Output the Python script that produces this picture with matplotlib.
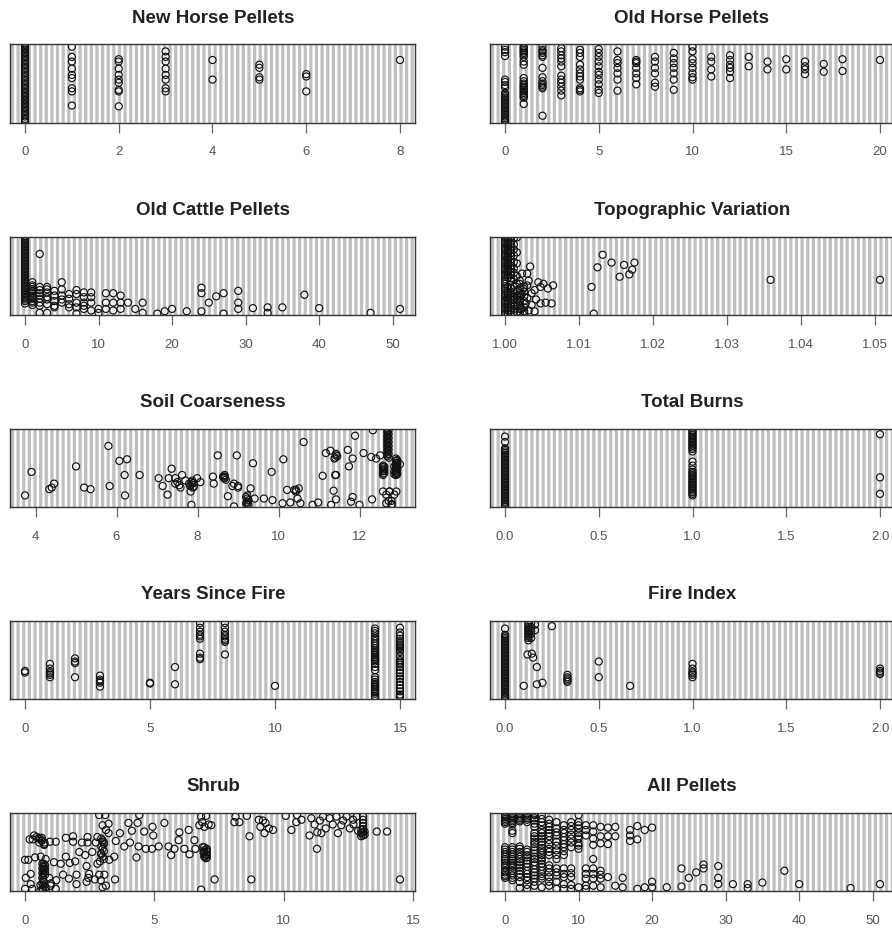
import numpy as np
import matplotlib
matplotlib.use("Agg")
import matplotlib.pyplot as plt
from matplotlib.patches import Rectangle

plt.rcParams['font.family'] = ['Liberation Sans', 'DejaVu Sans']

# ---------- DATA (y = % of panel height) ----------
NEW_HORSE_VALUES = [0, 1, 2, 3, 4, 5, 6, 8]
NEW_HORSE_ROWS = [
    [100, 98, 95, 93, 90, 88, 85, 83, 80, 78, 75, 73, 70, 68, 65, 63, 60, 58, 55, 53, 50, 48, 45, 43, 40, 38, 35, 33, 30, 28, 25, 23, 20, 18, 15, 13, 10, 8, 5, 3, 1],
    [97, 84, 78, 69, 61, 57, 44, 40, 22],
    [81, 78, 69, 61, 55, 51, 42, 40, 21],
    [91, 84, 78, 69, 61, 55, 44, 40],
    [80, 55],
    [74, 70, 58, 55],
    [62, 59, 40],
    [80],
]

OLD_HORSE_VALUES = [0, 1, 2, 3, 4, 5, 6, 7, 8, 9, 10, 11, 12, 13, 14, 15, 16, 17, 18, 20]
OLD_HORSE_ROWS = [
    [97, 93, 90, 85, 55, 52, 48, 45, 38, 36, 34, 32, 30, 28, 26, 24, 22, 20, 18, 16, 14, 12, 10, 8, 6, 4, 2, 1],
    [97, 95, 93, 91, 89, 87, 84, 78, 74, 57, 53, 50, 48, 46, 44, 42, 40, 38, 36, 34, 32, 24],
    [97, 93, 91, 89, 86, 84, 70, 58, 53, 50, 48, 46, 44, 9],
    [95, 91, 86, 82, 78, 72, 60, 55, 51, 46, 41, 35],
    [93, 89, 84, 74, 68, 63, 59, 55, 44, 42, 40],
    [94, 89, 84, 78, 72, 65, 61, 55, 49, 42, 38],
    [91, 80, 76, 70, 63, 55, 41],
    [80, 78, 76, 70, 63, 57, 49],
    [84, 78, 70, 63, 51, 46],
    [89, 82, 76, 70, 63, 55, 42],
    [97, 91, 81, 76, 70, 63, 58, 55],
    [84, 78, 68, 59],
    [86, 80, 74, 70, 65, 57],
    [84, 72],
    [78, 68],
    [81, 68],
    [78, 72, 68, 62],
    [75, 65],
    [81, 66],
    [80],
]

OLD_CATTLE_VALUES = [0, 1, 2, 3, 4, 5, 6, 7, 8, 9, 10, 11, 12, 13, 14, 15, 16, 18, 19, 20, 22, 24, 25, 26, 27, 29, 31, 33, 35, 38, 40, 47, 51]
OLD_CATTLE_ROWS = [
    [100, 98, 96, 94, 92, 90, 88, 86, 84, 82, 80, 78, 76, 74, 72, 70, 68, 66, 64, 62, 60, 58, 56, 54, 52, 50, 48, 46, 44, 42, 40, 38, 36, 34, 32, 30, 28, 26, 24, 22, 20, 18, 15],
    [42, 38, 36, 33, 31, 28, 25, 23, 21, 18, 16, 13],
    [78, 36, 32, 28, 25, 21, 16, 12, 3],
    [36, 33, 29, 23, 20, 14, 3],
    [31, 25, 18, 12, 10],
    [42, 33, 25, 20, 16],
    [27, 21, 14, 10],
    [32, 27, 16, 10, 2],
    [29, 23, 16, 12, 8],
    [29, 23, 16, 6],
    [8, 3],
    [28, 16, 8],
    [28, 16, 6],
    [25, 16, 8],
    [16],
    [8],
    [16, 3],
    [2],
    [5],
    [8],
    [5],
    [35, 28, 5],
    [16],
    [24],
    [28, 2],
    [31, 16, 8],
    [9],
    [10, 3],
    [10],
    [26],
    [9],
    [3],
    [8],
]

TOPO_VALUES = [1.0, 1.0004, 1.0008, 1.0012, 1.0016, 1.002, 1.0026]
TOPO_ROWS = [
    [100, 97, 94, 91, 88, 85, 82, 79, 76, 73, 70, 67, 64, 61, 58, 55, 52, 49, 46, 43, 40, 37, 34, 31, 28, 25, 22, 19, 16, 13, 10, 7, 4, 1],
    [99, 96, 93, 90, 87, 84, 81, 78, 75, 72, 69, 66, 63, 60, 57, 54, 51, 48, 36, 30, 26, 22, 18, 14, 10, 6, 2],
    [100, 95, 91, 87, 83, 79, 75, 71, 67, 63, 59, 55, 51, 47, 44, 34, 28, 24, 20, 16, 12, 6, 1],
    [98, 90, 84, 76, 68, 60, 54, 46, 36, 30, 24, 19, 14, 8, 3],
    [99, 80, 66, 50, 40, 30, 25, 20, 12, 4],
    [44, 34, 28, 24, 18, 12, 8, 3],
    [36, 30, 24, 18, 10, 5, 2],
]
TOPO_X = [1.0132, 1.0125, 1.0144, 1.0161, 1.0175, 1.0172, 1.0168, 1.0155, 1.0117, 1.012, 1.0359, 1.0507,
          1.0034, 1.003, 1.0023, 1.002, 1.003, 1.0032, 1.0045, 1.0048, 1.0052, 1.0058, 1.0065, 1.004, 1.0036,
          1.0025, 1.0022, 1.003, 1.0042, 1.0048, 1.0055, 1.0063, 1.0036, 1.0028, 1.002, 1.0022, 1.0032, 1.004, 1.002]
TOPO_Y = [77, 61, 67, 64, 67, 58, 52, 49, 36, 2, 45, 45,
          62, 53, 53, 40, 38, 44, 42, 36, 40, 34, 38, 32, 28,
          34, 26, 22, 20, 15, 16, 15, 13, 15, 14, 8, 6, 5, 20]

SOIL_X = [3.74, 3.9, 4.34, 4.4, 4.46, 5.0, 5.2, 5.36, 5.8, 5.83, 6.07, 6.26, 6.2, 6.21, 6.57, 7.04, 7.14, 7.26, 7.36, 7.29,
          7.45, 7.45, 7.58, 7.62, 7.7, 7.79, 7.87, 7.91, 7.99, 8.07, 7.83, 7.85, 8.38, 8.4, 8.5, 8.65, 8.67, 8.75, 8.86, 8.9,
          8.97, 9.0, 9.23, 9.23, 9.23, 9.23, 9.31, 9.37, 9.41, 9.64, 9.83, 9.85, 10.12, 10.21, 10.1, 10.29, 10.43, 10.39, 10.47, 10.54,
          10.62, 10.84, 10.98, 11.09, 11.17, 11.28, 11.42, 11.38, 11.4, 11.36, 11.42, 11.3, 11.71, 11.74, 11.83, 11.89, 11.83, 11.79, 12.0, 12.1,
          12.29, 12.31, 12.41, 12.33, 12.51,
          12.69, 12.69, 12.69, 12.69, 12.69, 12.69, 12.69, 12.69, 12.69, 12.69, 12.69, 12.69, 12.69, 12.69, 12.69,
          12.72, 12.72, 12.72, 12.72, 12.72, 12.72, 12.72, 12.72,
          12.58, 12.58, 12.58, 12.58, 12.58, 12.58, 12.9, 12.9, 12.9, 12.9, 12.9, 12.9, 12.9, 12.9, 12.93, 12.93, 12.93, 13.0,
          12.58, 12.74, 12.91, 12.66, 12.79, 12.72, 12.8,
          12.61, 12.61, 12.61, 12.61, 12.93, 12.93, 12.93, 12.93, 12.93, 12.86, 12.86, 12.86,
          7.85, 7.85, 7.9, 7.82, 7.88, 8.67, 8.67, 8.7, 8.63, 9.2, 9.26, 9.2, 9.26,
          7.5, 7.55, 8.9, 9.0, 11.42, 11.45, 11.4, 11.42, 10.43, 10.5, 12.66, 12.74, 12.79, 12.86]
SOIL_Y = [15, 45, 23, 25, 30, 52, 25, 23, 78, 27, 59, 61, 41, 15, 41, 37, 27, 16, 49, 37,
          37, 30, 25, 41, 34, 30, 34, 26, 37, 32, 20, 3, 39, 30, 66, 37, 39, 14, 27, 1,
          66, 27, 15, 11, 7, 4, 24, 56, 11, 11, 45, 9, 61, 22, 5, 6, 22, 22, 11, 5,
          83, 3, 6, 40, 69, 72, 66, 62, 41, 21, 10, 3, 73, 52, 62, 91, 13, 7, 3, 69,
          64, 10, 62, 98, 66,
          100, 97, 95, 92, 90, 87, 85, 82, 80, 77, 75, 72, 70, 67, 65,
          98, 93, 88, 83, 78, 73, 68, 63,
          53, 51, 48, 46, 43, 41, 62, 59, 56, 53, 50, 47, 44, 41, 56, 50, 44, 55,
          20, 20, 20, 5, 3, 8, 4,
          52, 49, 46, 43, 60, 57, 54, 48, 42, 52, 46, 42,
          32, 29, 31, 27, 25, 41, 37, 35, 39, 13, 9, 5, 3,
          32, 28, 30, 25, 68, 65, 63, 41, 20, 24, 16, 20, 8, 16]

BURN_VALUES = [0, 1, 2]
BURN_ROWS = [
    [90, 83, 75, 73, 71, 69, 67, 65, 63, 61, 59, 57, 55, 53, 51, 49, 47, 45, 43, 41, 39, 37, 35, 33, 31, 29, 27, 25, 23, 21, 19, 17, 15, 13, 11, 9, 7, 5, 3, 1],
    [98, 96, 94, 92, 90, 88, 86, 84, 82, 80, 78, 76, 74, 71, 58, 53, 48, 45, 43, 41, 39, 37, 35, 33, 31, 29, 27, 25, 23, 21, 19, 17, 15],
    [93, 38, 17],
]

YEARS_VALUES = [0, 1, 2, 3, 5, 6, 7, 8, 10, 14, 15]
YEARS_ROWS = [
    [36, 34],
    [45, 39, 35, 33, 31, 28],
    [52, 48, 46, 28],
    [30, 25, 23, 21, 16],
    [21, 20],
    [41, 19],
    [97, 91, 86, 82, 80, 77, 58, 53, 51],
    [97, 91, 86, 82, 80, 77, 75, 73, 57],
    [17],
    [90, 87, 84, 80, 77, 74, 71, 68, 65, 62, 60, 58, 56, 54, 53, 51, 50, 48, 45, 41, 37, 28, 25, 22, 20, 18, 16, 15, 13, 11, 9, 7, 4, 2],
    [91, 85, 81, 77, 74, 72, 70, 68, 66, 65, 62, 60, 55, 50, 48, 46, 44, 41, 37, 33, 29, 26, 22, 18, 14, 10, 6, 4, 3],
]

FIRE_VALUES = [0, 0.1, 0.12, 0.125, 0.14, 0.143, 0.15, 0.16, 0.17, 0.2, 0.25, 0.333, 0.5, 0.667, 1, 2]
FIRE_ROWS = [
    [90, 82, 80, 78, 76, 74, 72, 70, 68, 66, 64, 62, 60, 58, 56, 54, 52, 50, 48, 46, 44, 42, 40, 38, 36, 34, 32, 30, 28, 26, 24, 22, 20, 18, 16, 14, 12, 10, 8, 6, 4, 2, 1],
    [17],
    [57],
    [97, 95, 92, 90, 88, 86, 84, 82, 80, 78, 75],
    [97, 92, 87, 83, 78],
    [58],
    [53],
    [95, 88],
    [41, 19],
    [21],
    [93],
    [31, 28, 26, 24, 22],
    [48, 28],
    [17],
    [45, 39, 35, 33, 31, 28],
    [39, 36, 34, 32],
]

SHRUB_X = [0.18, 0.35, 0.52, 0.65, 0.74, 0.96, 1.19, 1.58, 1.86, 1.86, 2.2, 2.42, 2.42, 2.8, 2.74,
           2.87, 3.1, 3.0, 3.23, 3.13, 3.23, 2.95, 3.0, 3.05, 2.95, 3.0, 3.05, 2.95, 3.0, 3.05,
           3.45, 3.26, 3.51, 3.67, 3.84, 4.06, 4.0, 4.35, 4.13, 4.42, 4.31, 4.39, 4.67, 4.61, 4.93, 4.96, 4.91, 5.17, 5.39, 5.55,
           5.65, 5.78, 5.94, 5.97, 6.33, 6.16, 6.36, 6.55, 6.59, 6.81, 7.0, 6.74, 6.94, 7.2,
           6.87, 7.0, 6.9, 7.0, 6.95, 7.0, 6.81, 7.33, 8.75, 14.5,
           0.67, 0.7, 0.67, 0.7, 0.67, 0.7, 0.67, 0.7, 0.67, 0.7, 0.67, 0.7,
           0.0, 0.13, 0.39, 0.61, 0.8, 1.12, 1.38, 1.58, 1.73, 1.94, 2.33, 2.38, 2.48, 2.8, 0.03, 0.22, 0.0, 0.22, 0.28,
           0.93, 0.99, 1.21, 1.19, 1.47, 1.7, 1.99, 1.99, 2.38, 2.45, 2.87, 3.07, 2.93, 3.0, 3.13, 3.48,
           8.14, 8.1, 8.29, 8.58, 8.68, 9.04, 9.26, 9.3, 9.43, 9.59, 10.08, 10.3, 10.52, 10.49, 10.69, 11.0, 11.07, 11.29, 11.46, 11.52,
           11.63, 11.78, 12.04, 12.1, 12.23, 12.43, 12.56, 12.69, 12.82, 12.88, 13.07, 13.07, 13.07, 13.07, 13.07, 13.07, 13.07, 13.6, 14.0,
           0.72, 0.72, 0.72, 0.72, 0.78, 0.78, 0.78, 0.78, 0.6, 0.8, 0.6, 0.8, 0.72,
           6.93, 7.03, 6.93, 7.03, 6.93, 7.03, 6.93, 7.03, 13.0, 13.13, 13.0, 13.13, 13.0,
           0.55, 0.65, 0.75, 0.55, 0.65, 0.75, 0.3, 0.45, 3.0, 3.05, 2.95, 2.9, 1.0, 2.1, 2.6, 2.7,
           7.1, 6.85, 9.1, 9.2, 11.2, 11.3, 11.4, 11.9, 12.3, 12.7]
SHRUB_Y = [66, 71, 67, 65, 59, 63, 63, 68, 70, 63, 62, 69, 62, 69, 62,
           97, 97, 84, 86, 78, 74, 67, 63, 60, 57, 54, 51, 47, 44, 41,
           44, 40, 64, 74, 57, 62, 87, 87, 77, 97, 43, 57, 54, 76, 82, 71, 54, 57, 87, 57,
           46, 54, 65, 75, 78, 54, 47, 65, 54, 95, 96, 84, 82, 84,
           56, 53, 50, 47, 44, 42, 2, 15, 15, 15,
           35, 32, 29, 26, 23, 20, 17, 14, 10, 7, 3, 1,
           40, 40, 43, 44, 41, 37, 35, 44, 36, 38, 46, 32, 22, 35, 17, 22, 3, 9, 3,
           17, 7, 14, 3, 21, 16, 21, 9, 12, 17, 21, 21, 14, 5, 7, 15,
           95, 88, 88, 96, 70, 91, 74, 87, 80, 78, 96, 78, 97, 88, 91, 71, 93, 54, 74, 95,
           80, 93, 95, 74, 84, 95, 80, 91, 95, 77, 95, 91, 87, 83, 79, 75, 71, 76, 76,
           35, 31, 27, 23, 33, 29, 25, 21, 8, 5, 1, 1, 12,
           56, 54, 52, 50, 48, 46, 44, 43, 78, 76, 74, 72, 70,
           68, 64, 60, 62, 68, 62, 66, 69, 65, 62, 48, 38, 10, 50, 50, 15,
           85, 88, 82, 90, 85, 75, 90, 85, 90, 85]

ALL_VALUES = [0, 1, 2, 3, 4, 5, 6, 7, 8, 9, 10, 11, 12, 13, 14, 15, 16, 17, 18, 19, 20, 22, 24, 25, 26, 27, 29, 31, 33, 35, 38, 40, 47, 51]
ALL_ROWS = [
    [98, 96, 94, 92, 90, 88, 86, 56, 53, 50, 47, 44, 41, 39, 36, 33, 30, 26, 24, 21, 19, 17],
    [98, 95, 93, 91, 89, 87, 85, 77, 74, 56, 53, 50, 47, 44, 41, 39, 36, 33, 30, 26, 23, 20, 17, 14],
    [98, 95, 93, 91, 89, 57, 54, 50, 47, 44, 41, 37, 33, 30, 26, 22, 18, 12, 4],
    [98, 95, 93, 91, 88, 53, 50, 46, 43, 39, 35, 31, 26, 22, 18, 14, 8, 3],
    [99, 97, 93, 90, 86, 82, 74, 70, 67, 63, 60, 56, 52, 48, 44, 41, 37, 33, 28, 24, 20, 16, 12, 7],
    [97, 92, 88, 84, 78, 74, 70, 67, 63, 59, 55, 52, 49, 46, 42, 39, 35, 31, 26, 22, 19, 16, 5],
    [91, 86, 82, 78, 74, 70, 65, 60, 54, 50, 46, 33, 29, 24, 18, 12, 7],
    [88, 80, 75, 71, 63, 58, 52, 46, 41, 29, 24, 20, 12, 3],
    [84, 78, 74, 69, 65, 60, 56, 51, 46, 29, 22, 18, 9, 3],
    [88, 83, 78, 72, 67, 62, 56, 29, 23, 18, 8, 3],
    [97, 88, 84, 80, 74, 70, 67, 61, 58, 54, 5],
    [84, 78, 71, 29, 22, 16, 7, 3],
    [84, 76, 67, 59, 41, 29, 22, 16, 7],
    [82, 70, 61, 26, 21, 16, 5],
    [81, 70, 60, 18],
    [82, 70, 7],
    [17, 5],
    [78, 71, 64],
    [83, 66, 3],
    [78, 5],
    [81, 12, 5],
    [5],
    [29, 6],
    [17],
    [24],
    [34, 29, 4],
    [32, 17, 9],
    [9],
    [9, 4],
    [11],
    [26],
    [9],
    [4],
    [9],
]

TITLES = ["New Horse Pellets", "Old Horse Pellets", "Old Cattle Pellets", "Topographic Variation",
          "Soil Coarseness", "Total Burns", "Years Since Fire", "Fire Index", "Shrub", "All Pellets"]
TICKS = [[0, 2, 4, 6, 8], [0, 5, 10, 15, 20], [0, 10, 20, 30, 40, 50],
         [1.00, 1.01, 1.02, 1.03, 1.04, 1.05], [4, 6, 8, 10, 12], [0.0, 0.5, 1.0, 1.5, 2.0],
         [0, 5, 10, 15], [0.0, 0.5, 1.0, 1.5, 2.0], [0, 5, 10, 15], [0, 10, 20, 30, 40, 50]]
TICK_LABELS = [["0", "2", "4", "6", "8"], ["0", "5", "10", "15", "20"], ["0", "10", "20", "30", "40", "50"],
               ["1.00", "1.01", "1.02", "1.03", "1.04", "1.05"], ["4", "6", "8", "10", "12"],
               ["0.0", "0.5", "1.0", "1.5", "2.0"], ["0", "5", "10", "15"],
               ["0.0", "0.5", "1.0", "1.5", "2.0"], ["0", "5", "10", "15"], ["0", "10", "20", "30", "40", "50"]]


def expand(values, rows):
    xs, ys = [], []
    for v, r in zip(values, rows):
        xs += [v] * len(r)
        ys += r
    return xs, ys


topo_x, topo_y = expand(TOPO_VALUES, TOPO_ROWS)
PANELS = [
    expand(NEW_HORSE_VALUES, NEW_HORSE_ROWS),
    expand(OLD_HORSE_VALUES, OLD_HORSE_ROWS),
    expand(OLD_CATTLE_VALUES, OLD_CATTLE_ROWS),
    (topo_x + TOPO_X, topo_y + TOPO_Y),
    (SOIL_X, SOIL_Y),
    expand(BURN_VALUES, BURN_ROWS),
    expand(YEARS_VALUES, YEARS_ROWS),
    expand(FIRE_VALUES, FIRE_ROWS),
    (SHRUB_X, SHRUB_Y),
    expand(ALL_VALUES, ALL_ROWS),
]

# ---------- LAYOUT (pixels) ----------
W, H = 892, 930
LEFTS = [10, 490]
TOPS = [44.3, 236.7, 428.7, 620.7, 812.7]
AX_W, AX_H = 405, 78.5
STRIPE_STEP = 5.63  # px between grey lines

fig = plt.figure(figsize=(W / 100, H / 100), dpi=100)

for i, (title, (xs, ys)) in enumerate(zip(TITLES, PANELS)):
    col, row = i % 2, i // 2
    ax = fig.add_axes([LEFTS[col] / W, 1 - (TOPS[row] + AX_H) / H, AX_W / W, AX_H / H])

    # vertical grey stripes, in axes fraction
    for sx in np.arange(2.5, AX_W, STRIPE_STEP):
        ax.plot([sx / AX_W] * 2, [0, 1], transform=ax.transAxes, color='#bfbfbf', lw=2.3,
                solid_capstyle='butt', zorder=1, snap=False)

    # the dots run a little past the bottom frame in the original
    clip = Rectangle((0, -0.035), 1, 1.035, transform=ax.transAxes)
    ax.scatter(xs, ys, s=26, facecolor=(1, 1, 1, 0.6), edgecolor='none', zorder=2, clip_path=clip)
    ax.scatter(xs, ys, s=26, facecolor='none', edgecolor='#111111', linewidth=0.85, zorder=3, clip_path=clip)

    lo, hi = min(xs), max(xs)
    pad = (hi - lo) * 0.04
    ax.set_xlim(lo - pad, hi + pad)
    ax.set_ylim(0, 100)
    ax.set_yticks([])
    ax.set_xticks(TICKS[i])
    ax.set_xticklabels(TICK_LABELS[i], fontsize=9.5, color='#555555')
    ax.tick_params(axis='x', length=7, width=0.9, color='#666666', pad=10)
    for s in ax.spines.values():
        s.set_linewidth(1.0)
        s.set_color('#333333')
        s.set_zorder(4)

    title_x = (213 if col == 0 else 692) / W
    fig.text(title_x, 1 - (TOPS[row] - 26) / H, title, ha='center', va='center',
             fontsize=13.5, fontweight='bold', color='#222222')

fig.savefig("out.png", dpi=100)
